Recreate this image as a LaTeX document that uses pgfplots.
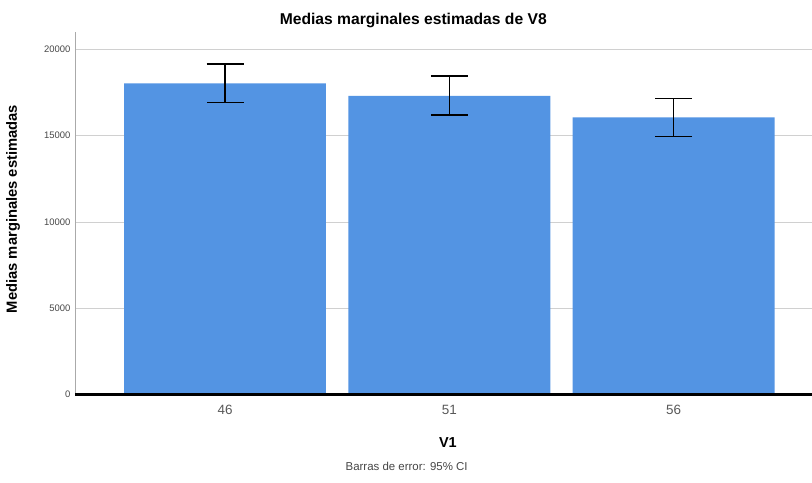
\documentclass[border=0pt]{standalone}
\usepackage{pgfplots}
\pgfplotsset{compat=1.18}
\usepackage{fontspec}
\setmainfont{Liberation Sans}
\definecolor{barblue}{RGB}{83,148,227}
\definecolor{gridgray}{RGB}{208,208,208}
\definecolor{tickgray}{RGB}{70,70,70}
\definecolor{axgray}{RGB}{170,170,170}
\begin{document}
\begin{tikzpicture}
\useasboundingbox (0,0) rectangle (812bp,483bp);
\begin{axis}[
  at={(75bp,88.3bp)}, anchor=south west,
  scale only axis, width=737bp, height=362.7bp,
  xmin=-0.669, xmax=2.617, ymin=0, ymax=21000,
  axis x line=bottom, axis y line=left,
  x axis line style={-, black, line width=3bp},
  y axis line style={-, axgray, line width=0.8bp},
  xtick={0,1,2}, xticklabels={46,51,56},
  ytick={0,5000,10000,15000,20000},
  major tick length=0pt,
  ymajorgrids, grid style={gridgray, line width=0.8bp},
  scaled y ticks=false,
  /pgf/number format/assume math mode=true,
  /pgf/number format/1000 sep={},
  yticklabel style={font=\fontsize{9.5}{11}\selectfont, text=tickgray, xshift=-1bp},
  xticklabel style={font=\fontsize{13.5}{16}\selectfont, text=tickgray!90, yshift=-7bp},
  title={Medias marginales estimadas de V8},
  title style={at={(axis description cs:0.459,1.014)}, anchor=center, font=\fontsize{15.7}{18}\selectfont\bfseries},
  xlabel={V1},
  xlabel style={at={(axis description cs:0.506,-0.133)}, anchor=center, font=\fontsize{14.5}{17}\selectfont\bfseries},
  ylabel={Medias marginales estimadas},
  ylabel style={at={(axis description cs:-0.084,0.512)}, anchor=center, rotate=0, font=\fontsize{14.8}{17}\selectfont\bfseries},
  clip=false,
]
\addplot[ybar, bar width=0.9, fill=barblue, draw=none,
  error bars/.cd, y dir=both, y explicit,
  error bar style={black, line width=1.5bp},
  error mark options={rotate=90, black, mark size=18.5bp, line width=1.5bp}]
  coordinates {
    (0,18030) += (0,1120) -= (0,1120)
    (1,17300) += (0,1140) -= (0,1120)
    (2,16060) += (0,1100) -= (0,1125)
  };
\draw[black, line width=3bp] (axis cs:-0.669,0) -- (axis cs:2.617,0);
\node[font=\fontsize{11.5}{13}\selectfont, text=tickgray] at (axis description cs:0.450,-0.197) {Barras de error: 95\% CI};
\end{axis}
\end{tikzpicture}
\end{document}
